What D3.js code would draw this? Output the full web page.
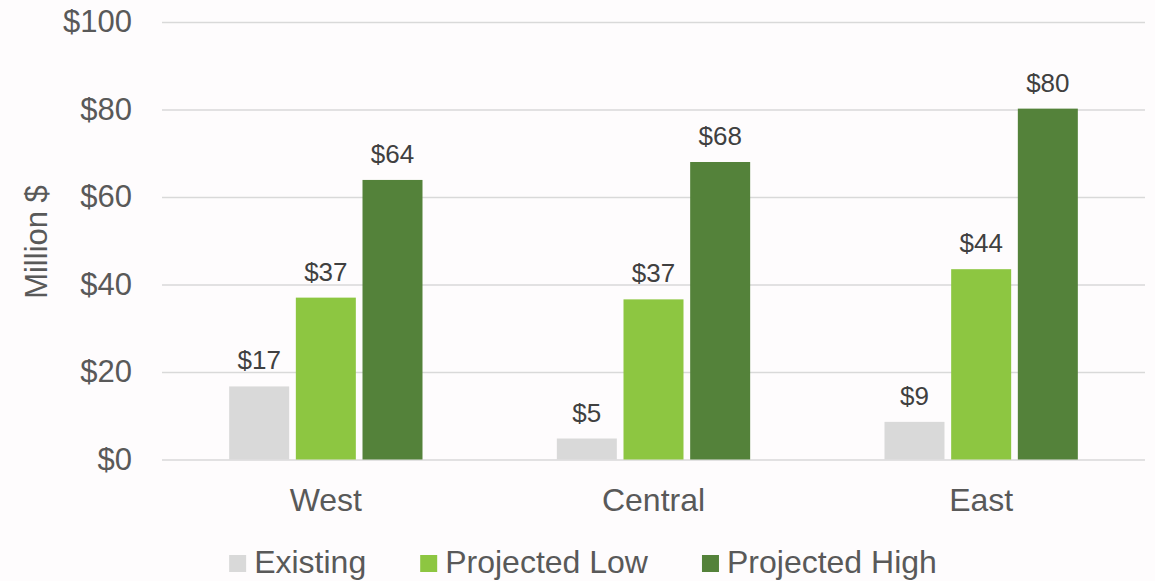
<!DOCTYPE html>
<html>
<head>
<meta charset="utf-8">
<script src="https://cdn.jsdelivr.net/npm/d3@7"></script>
<style>
  html, body { margin: 0; padding: 0; background: #fefcfd; }
  svg { display: block; font-family: "Liberation Sans", Arial, sans-serif; }
</style>
</head>
<body>
<svg id="chart" width="1155" height="581"></svg>
<script>
(function() {
  'use strict';

  // data
  var regions = ['West', 'Central', 'East'];
  var seriesNames = ['Existing', 'Projected Low', 'Projected High'];
  var existing = [16.7, 4.8, 8.6];
  var projectedLow = [37.0, 36.6, 43.5];
  var projectedHigh = [63.9, 68.0, 80.2];
  var yTicks = [0, 20, 40, 60, 80, 100];
  var colors = ['#d9d9d9', '#8dc641', '#54823a'];

  var values = [existing, projectedLow, projectedHigh];
  var svg = d3.select('#chart');
  var margin = {top: 22, right: 10, bottom: 121.5, left: 162};
  var width = 1155, height = 581;

  var x0 = d3.scaleBand()
      .domain(regions)
      .range([margin.left, width - margin.right])
      .padding(0);

  var x1 = d3.scaleBand()
      .domain(seriesNames)
      .range([x0.bandwidth() * 0.205, x0.bandwidth() * 0.795])
      .paddingInner(0.1);

  var y = d3.scaleLinear()
      .domain([0, 100])
      .range([height - margin.bottom, margin.top]);

  // gridlines + y labels
  var yAxis = svg.append('g')
      .attr('transform', 'translate(' + margin.left + ',0)')
      .call(d3.axisLeft(y)
        .tickValues(yTicks)
        .tickSize(-(width - margin.left - margin.right))
        .tickPadding(30)
        .tickFormat(function(d) { return '$' + d; }));
  yAxis.select('.domain').remove();
  yAxis.selectAll('.tick line')
      .attr('stroke', '#d9d9d9')
      .attr('stroke-width', 1.5);
  yAxis.selectAll('.tick text')
      .attr('fill', '#595959')
      .style('font-size', '31px')
      .style('font-family', '"Liberation Sans", Arial, sans-serif');

  // axis title
  svg.append('text')
      .attr('transform', 'translate(47,242) rotate(-90)')
      .attr('text-anchor', 'middle')
      .attr('fill', '#595959')
      .style('font-size', '31px')
      .text('Million $');

  // bars
  var groups = svg.append('g').selectAll('g')
      .data(regions)
      .enter().append('g')
      .attr('transform', function(d) { return 'translate(' + x0(d) + ',0)'; });

  groups.selectAll('rect')
      .data(function(d, i) {
        return seriesNames.map(function(s, j) { return {series: s, idx: j, value: values[j][i]}; });
      })
      .enter().append('rect')
      .attr('x', function(d) { return x1(d.series); })
      .attr('y', function(d) { return y(d.value); })
      .attr('width', x1.bandwidth())
      .attr('height', function(d) { return y(0) - y(d.value); })
      .attr('fill', function(d) { return colors[d.idx]; });

  groups.selectAll('text.lbl')
      .data(function(d, i) {
        return seriesNames.map(function(s, j) { return {series: s, value: values[j][i]}; });
      })
      .enter().append('text')
      .attr('class', 'lbl')
      .attr('x', function(d) { return x1(d.series) + x1.bandwidth() / 2; })
      .attr('y', function(d) { return y(d.value) - 17; })
      .attr('text-anchor', 'middle')
      .attr('fill', '#404040')
      .style('font-size', '26px')
      .text(function(d) { return '$' + Math.round(d.value); });

  // category labels
  svg.append('g').selectAll('text')
      .data(regions)
      .enter().append('text')
      .attr('x', function(d) { return x0(d) + x0.bandwidth() / 2; })
      .attr('y', 511)
      .attr('text-anchor', 'middle')
      .attr('fill', '#595959')
      .style('font-size', '32px')
      .text(function(d) { return d; });

  // legend
  var legend = svg.append('g');
  var items = legend.selectAll('g')
      .data(seriesNames)
      .enter().append('g');
  items.append('rect')
      .attr('y', 555)
      .attr('width', 17)
      .attr('height', 17)
      .attr('fill', function(d, i) { return colors[i]; });
  items.append('text')
      .attr('x', 25)
      .attr('y', 573)
      .attr('fill', '#595959')
      .style('font-size', '32px')
      .text(function(d) { return d; });

  var offset = 0, gap = 54, widths = [];
  items.each(function() {
    widths.push(25 + d3.select(this).select('text').node().getComputedTextLength());
  });
  var total = d3.sum(widths) + gap * (widths.length - 1);
  var start = 583 - total / 2;
  items.attr('transform', function(d, i) {
    var tx = start + offset;
    offset += widths[i] + gap;
    return 'translate(' + tx + ',0)';
  });
}());
</script>
</body>
</html>
